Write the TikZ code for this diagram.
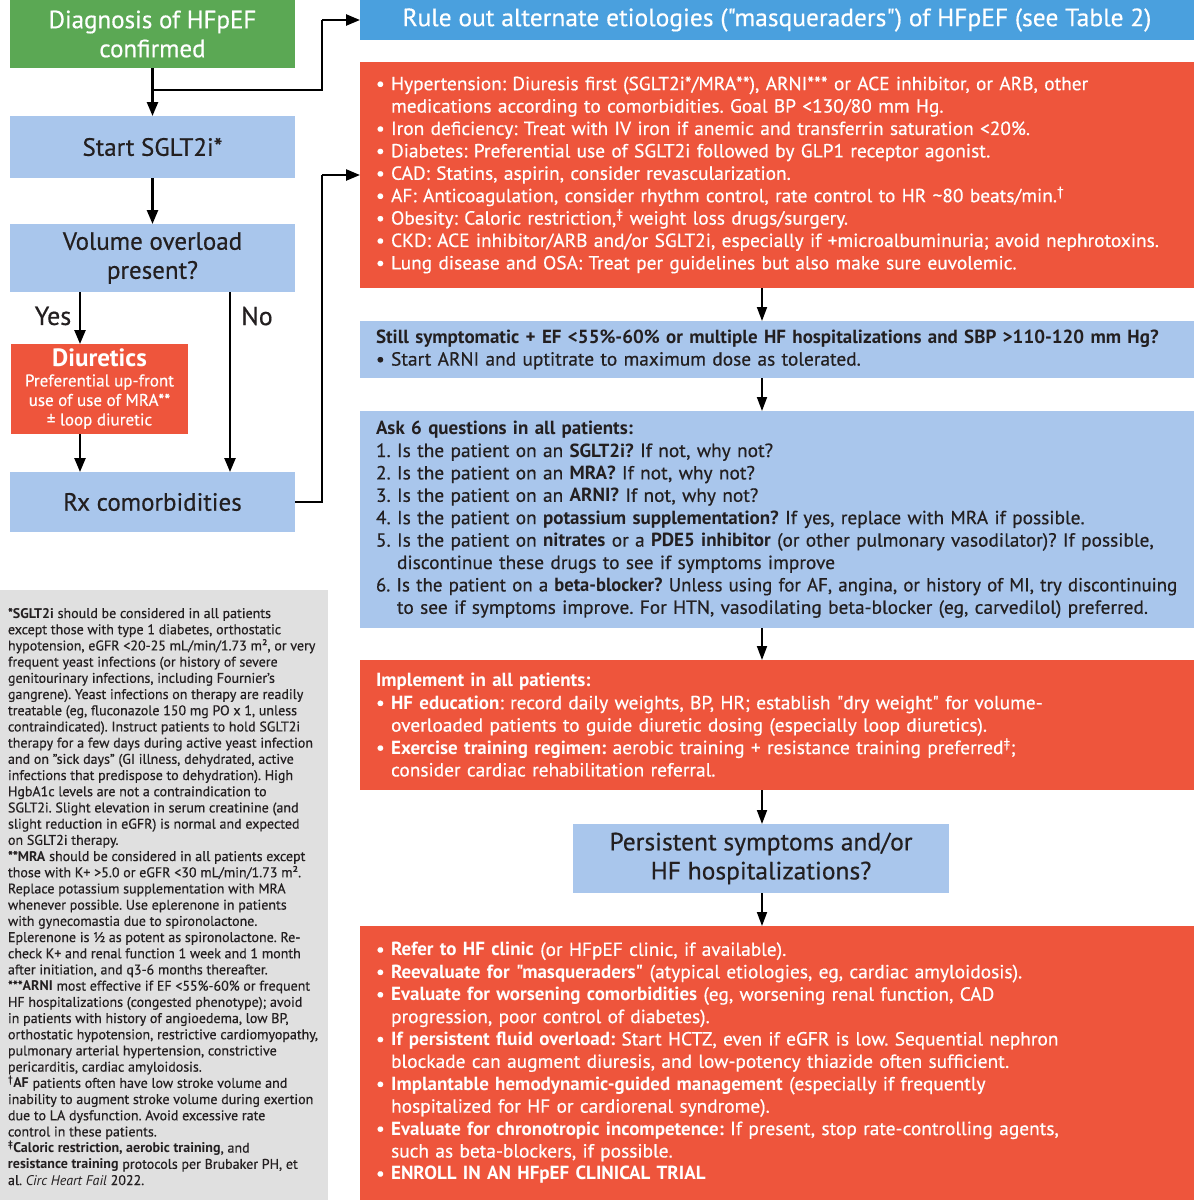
\documentclass[tikz,border=0pt]{standalone}
\usepackage{graphicx}
\usepackage{fontspec}
\setmainfont{PT Sans}[UprightFeatures={FakeBold=0.5}]
\newfontfamily\cnd{PT Sans}[UprightFeatures={FakeStretch=1.02,FakeBold=0.5},BoldFeatures={FakeStretch=1.0},ItalicFeatures={FakeStretch=1.02}]
\usetikzlibrary{arrows.meta}
\definecolor{hgreen}{HTML}{5BA854}
\definecolor{hblue}{HTML}{4AA0DE}
\definecolor{hred}{HTML}{EE553C}
\definecolor{lblue}{HTML}{A9C6EC}
\definecolor{lgray}{HTML}{E0E0E0}
\definecolor{txt}{HTML}{231F20}
\newcommand\cont{\phantom{•\ }}
\newcommand\tld{\textasciitilde}
\tikzset{
  box/.style={rectangle, anchor=north west, inner sep=0pt, outer sep=0pt},
  leftbox/.style={box, fill=lblue, text=txt, align=center, font=\frenchspacing\fontsize{25}{29}\selectfont},
  widebox/.style={box, minimum width=834pt, text width=802pt, inner xsep=16pt, align=left,
     font=\frenchspacing\cnd\fontsize{19}{22.4}\selectfont},
  redbox/.style={widebox, fill=hred, text=white},
  bluebox/.style={widebox, fill=lblue, text=txt},
  arrL/.style={line width=2.4pt, -{Triangle[length=14pt,width=11pt]}},
  arrR/.style={line width=1.8pt, -{Triangle[length=14pt,width=10pt]}},
  lab/.style={font=\fontsize{26}{30}\selectfont, text=txt, inner sep=0pt}
}
\begin{document}
\begin{tikzpicture}[x=1pt,y=-1pt]
\useasboundingbox (0,0) rectangle (1194,1200);
\fill[white] (0,0) rectangle (1194,1200);

% left column
\node[box, fill=hgreen, text=white, minimum width=285pt, minimum height=68pt, align=center,
  font=\fontsize{25}{29}\selectfont] (dx) at (10,0) {Diagnosis of HFpEF\\confirmed};
\node[leftbox, minimum width=285pt, minimum height=62pt] (st) at (10,116) {Start SGLT2i*};
\node[leftbox, minimum width=285pt, minimum height=68pt] (vol) at (10,224) {Volume overload\\present?};
\node[box, fill=hred, text=white, minimum width=177pt, minimum height=90pt, align=center,
  font=\fontsize{17}{19.5}\selectfont] (diu) at (11,344)
  {{\fontsize{25}{24}\selectfont\bfseries Diuretics}\\Preferential up-front\\use of use of MRA**\\± loop diuretic};
\node[leftbox, minimum width=285pt, minimum height=60pt] (rx) at (10,472) {Rx comorbidities};

\node[lab, anchor=center] (yes) at (53,316) {Yes};
\node[lab, anchor=center] (no) at (257,316) {No};

% footnote box
\node[box, fill=lgray, minimum width=328pt, minimum height=610pt] (fnbox) at (0,590) {};
\node[box, text=txt, align=left, font=\frenchspacing\fontsize{14}{16.2}\selectfont] (fn) at (8,608)
{*\textbf{SGLT2i} should be considered in all patients\\
except those with type 1 diabetes, orthostatic\\
hypotension, eGFR <20-25 mL/min/1.73 m², or very\\
frequent yeast infections (or history of severe\\
genitourinary infections, including Fournier's\\
gangrene). Yeast infections on therapy are readily\\
treatable (eg, fluconazole 150 mg PO x 1, unless\\
contraindicated). Instruct patients to hold SGLT2i\\
therapy for a few days during active yeast infection\\
and on "sick days" (GI illness, dehydrated, active\\
infections that predispose to dehydration). High\\
HgbA1c levels are not a contraindication to\\
SGLT2i. Slight elevation in serum creatinine (and\\
slight reduction in eGFR) is normal and expected\\
on SGLT2i therapy.\\
**\textbf{MRA} should be considered in all patients except\\
those with K+ >5.0 or eGFR <30 mL/min/1.73 m².\\
Replace potassium supplementation with MRA\\
whenever possible. Use eplerenone in patients\\
with gynecomastia due to spironolactone.\\
Eplerenone is ½ as potent as spironolactone. Re-\\
check K+ and renal function 1 week and 1 month\\
after initiation, and q3-6 months thereafter.\\
***\textbf{ARNI} most effective if EF <55\%-60\% or frequent\\
HF hospitalizations (congested phenotype); avoid\\
in patients with history of angioedema, low BP,\\
orthostatic hypotension, restrictive cardiomyopathy,\\
pulmonary arterial hypertension, constrictive\\
pericarditis, cardiac amyloidosis.\\
\textsuperscript{†}\textbf{AF} patients often have low stroke volume and\\
inability to augment stroke volume during exertion\\
due to LA dysfunction. Avoid excessive rate\\
control in these patients.\\
\textsuperscript{‡}\textbf{Caloric restriction, aerobic training}, and\\
\textbf{resistance training} protocols per Brubaker PH, et\\
al. \textit{Circ Heart Fail} 2022.};

% right column
\node[box, fill=hblue, text=white, minimum width=834pt, minimum height=40pt,
  font=\frenchspacing\cnd\fontsize{25}{28}\selectfont] (hdr) at (360,0)
  {Rule out alternate etiologies ("masqueraders") of HFpEF (see Table 2)};

\node[redbox, minimum height=226pt] (r1) at (360,62)
{• Hypertension: Diuresis first (SGLT2i*/MRA**), ARNI*** or ACE inhibitor, or ARB, other\\
\cont medications according to comorbidities. Goal BP <130/80 mm Hg.\\
• Iron deficiency: Treat with IV iron if anemic and transferrin saturation <20\%.\\
• Diabetes: Preferential use of SGLT2i followed by GLP1 receptor agonist.\\
• CAD: Statins, aspirin, consider revascularization.\\
• AF: Anticoagulation, consider rhythm control, rate control to HR \tld80 beats/min.\textsuperscript{†}\\
• Obesity: Caloric restriction,\textsuperscript{‡} weight loss drugs/surgery.\\
• CKD: ACE inhibitor/ARB and/or SGLT2i, especially if +microalbuminuria; avoid nephrotoxins.\\
• Lung disease and OSA: Treat per guidelines but also make sure euvolemic.};

\node[bluebox, minimum height=57pt] (b2) at (360,321)
{\mbox{\textbf{Still symptomatic + EF <55\%-60\% or multiple HF hospitalizations and SBP >110-120 mm Hg?}}\\
• Start ARNI and uptitrate to maximum dose as tolerated.};

\node[bluebox, minimum height=217pt] (b3) at (360,411)
{\textbf{Ask 6 questions in all patients:}\\
1. Is the patient on an \textbf{SGLT2i?} If not, why not?\\
2. Is the patient on an \textbf{MRA?} If not, why not?\\
3. Is the patient on an \textbf{ARNI?} If not, why not?\\
4. Is the patient on \textbf{potassium supplementation?} If yes, replace with MRA if possible.\\
\mbox{5. Is the patient on \textbf{nitrates} or a \textbf{PDE5 inhibitor} (or other pulmonary vasodilator)? If possible,}\\
\phantom{5.\ }discontinue these drugs to see if symptoms improve\\
\scalebox{0.975}[1]{6. Is the patient on a \textbf{beta-blocker?} Unless using for AF, angina, or history of MI, try discontinuing}\\
\mbox{\phantom{6.\ }to see if symptoms improve. For HTN, vasodilating beta-blocker (eg, carvedilol) preferred.}};

\node[redbox, minimum height=130pt] (r2) at (360,660)
{\textbf{Implement in all patients:}\\
• \textbf{HF education}: record daily weights, BP, HR; establish "dry weight" for volume-\\
\cont overloaded patients to guide diuretic dosing (especially loop diuretics).\\
• \textbf{Exercise training regimen:} aerobic training + resistance training preferred\textsuperscript{‡};\\
\cont consider cardiac rehabilitation referral.};

\node[box, fill=lblue, text=txt, minimum width=376pt, minimum height=69pt, align=center,
  font=\frenchspacing\cnd\fontsize{25}{29}\selectfont] (b4) at (573,824)
  {Persistent symptoms and/or\\HF hospitalizations?};

\node[redbox, minimum height=274pt] (r3) at (360,926)
{• \textbf{Refer to HF clinic} (or HFpEF clinic, if available).\\
• \textbf{Reevaluate for "masqueraders"} (atypical etiologies, eg, cardiac amyloidosis).\\
• \textbf{Evaluate for worsening comorbidities} (eg, worsening renal function, CAD\\
\cont progression, poor control of diabetes).\\
• \textbf{If persistent fluid overload:} Start HCTZ, even if eGFR is low. Sequential nephron\\
\cont blockade can augment diuresis, and low-potency thiazide often sufficient.\\
• \textbf{Implantable hemodynamic-guided management} (especially if frequently\\
\cont hospitalized for HF or cardiorenal syndrome).\\
• \textbf{Evaluate for chronotropic incompetence:} If present, stop rate-controlling agents,\\
\cont such as beta-blockers, if possible.\\
• \textbf{ENROLL IN AN HFpEF CLINICAL TRIAL}};

% connectors
\coordinate (br) at (152,90);
\coordinate (vx) at (322,0);
\coordinate (ya) at (80,0);
\coordinate (na) at (230,0);
\coordinate (cx) at (762,0);
\draw[arrL] (dx.south) -- (st.north);
\draw[line width=2.4pt] (br) -- (br -| vx) -- (vx |- hdr.west);
\draw[arrL] (vx |- hdr.west) -- (hdr.west);
\draw[arrL] (st.south) -- (vol.north);
\draw[arrL] (ya |- vol.south) -- (ya |- diu.north);
\draw[arrL] (ya |- diu.south) -- (ya |- rx.north);
\draw[arrL] (na |- vol.south) -- (na |- rx.north);
\draw[line width=2.4pt] (rx.east) -- (rx.east -| vx) -- (vx |- r1.west);
\draw[arrL] (vx |- r1.west) -- (r1.west);
\draw[arrR] (cx |- r1.south) -- (cx |- b2.north);
\draw[arrR] (cx |- b2.south) -- (cx |- b3.north);
\draw[arrR] (cx |- b3.south) -- (cx |- r2.north);
\draw[arrR] (cx |- r2.south) -- (cx |- b4.north);
\draw[arrR] (cx |- b4.south) -- (cx |- r3.north);
\end{tikzpicture}
\end{document}
